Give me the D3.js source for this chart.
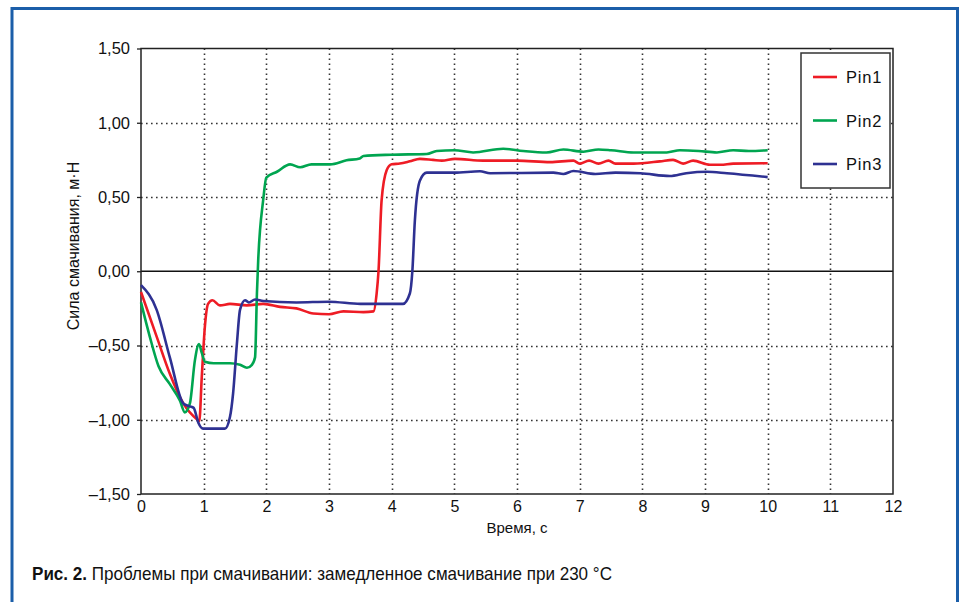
<!DOCTYPE html>
<html>
<head>
<meta charset="utf-8">
<script src="https://cdn.jsdelivr.net/npm/d3@7"></script>
<style>
  body { margin: 0; background: #fff; }
  svg { display: block; }
</style>
</head>
<body>
<svg id="chart" width="962" height="602"></svg>
<script>
// time (s), force (mN)
const pin1 = [
  [0,-0.14],[0.25,-0.44],[0.46,-0.69],[0.675,-0.89],[0.9,-1.0],[0.93,-1.01],[0.97,-0.71],[1.02,-0.37],
  [1.07,-0.22],[1.14,-0.195],[1.26,-0.23],[1.42,-0.22],[1.69,-0.23],[1.95,-0.22],[2.22,-0.24],[2.48,-0.25],
  [2.75,-0.285],[3.0,-0.29],[3.23,-0.27],[3.55,-0.275],[3.71,-0.27],[3.76,-0.15],[3.79,0],[3.84,0.48],
  [3.92,0.68],[4.0,0.72],[4.13,0.725],[4.29,0.74],[4.45,0.757],[4.66,0.75],[4.8,0.745],[5.01,0.757],
  [5.46,0.745],[6.0,0.745],[6.53,0.735],[6.9,0.745],[7.0,0.725],[7.15,0.745],[7.3,0.725],[7.46,0.745],
  [7.57,0.725],[7.86,0.725],[8.28,0.74],[8.49,0.75],[8.65,0.725],[8.81,0.745],[9.08,0.717],[9.25,0.717],
  [9.45,0.725],[10.0,0.727]
];
const pin2 = [
  [0,-0.21],[0.14,-0.44],[0.28,-0.64],[0.46,-0.76],[0.62,-0.87],[0.70,-0.95],[0.78,-0.89],[0.86,-0.6],
  [0.925,-0.49],[0.97,-0.55],[1.02,-0.61],[1.16,-0.62],[1.42,-0.62],[1.58,-0.63],[1.69,-0.65],[1.77,-0.63],
  [1.82,-0.58],[1.85,-0.15],[1.87,0.07],[1.95,0.48],[2.0,0.63],[2.17,0.67],[2.38,0.72],[2.54,0.70],
  [2.72,0.72],[3.02,0.72],[3.28,0.747],[3.49,0.76],[3.55,0.776],[4.0,0.785],[4.56,0.79],[4.72,0.81],
  [5.0,0.815],[5.3,0.80],[5.78,0.825],[6.1,0.81],[6.47,0.80],[6.74,0.82],[7.06,0.805],[7.3,0.82],
  [7.5,0.815],[7.86,0.80],[8.39,0.80],[8.6,0.815],[8.9,0.81],[9.19,0.80],[9.45,0.815],[9.7,0.81],[10.0,0.815]
];
const pin3 = [
  [0,-0.094],[0.25,-0.26],[0.46,-0.58],[0.675,-0.89],[0.78,-0.91],[0.84,-0.92],[0.915,-1.02],[0.99,-1.06],
  [1.34,-1.06],[1.42,-0.98],[1.47,-0.82],[1.53,-0.49],[1.58,-0.26],[1.66,-0.195],[1.72,-0.21],[1.82,-0.19],
  [1.95,-0.2],[2.48,-0.21],[3.0,-0.205],[3.5,-0.22],[4.18,-0.22],[4.29,-0.15],[4.33,0],[4.37,0.34],
  [4.45,0.61],[4.56,0.664],[5.0,0.664],[5.41,0.673],[5.57,0.66],[6.58,0.664],[6.74,0.655],[6.9,0.675],
  [7.25,0.655],[7.57,0.664],[7.97,0.66],[8.44,0.641],[8.7,0.66],[9.03,0.67],[9.35,0.66],[10.0,0.634]
];

const seriesNames = ["Pin1", "Pin2", "Pin3"];
const seriesColors = ["#ee1c25", "#00a550", "#2e3192"];
const xTicks = [0,1,2,3,4,5,6,7,8,9,10,11,12];
const yTicks = [-1.5,-1,-0.5,0,0.5,1,1.5];

const svg = d3.select("#chart");

// outer blue frame (no bottom edge)
svg.append("path")
  .attr("d", "M12,604 L12,8.5 L957.5,8.5 L957.5,604")
  .attr("fill", "none")
  .attr("stroke", "#1b5ea9")
  .attr("stroke-width", 3);

const plot = {left: 141, right: 893, top: 48.5, bottom: 494};

const x = d3.scaleLinear().domain([0, 12]).range([plot.left, plot.right]);
const y = d3.scaleLinear().domain([-1.5, 1.5]).range([plot.bottom, plot.top]);

// dotted grid
svg.append("g")
  .selectAll("line")
  .data(xTicks.filter(d => d > 0 && d < 12))
  .join("line")
  .attr("x1", d => Math.round(x(d)) + 0.5).attr("x2", d => Math.round(x(d)) + 0.5)
  .attr("y1", plot.top).attr("y2", plot.bottom)
  .attr("stroke", "#333").attr("stroke-width", 1.6)
  .attr("stroke-dasharray", "1.6,3.4");

svg.append("g")
  .selectAll("line")
  .data(yTicks.filter(d => d != 0 && Math.abs(d) < 1.5))
  .join("line")
  .attr("x1", plot.left).attr("x2", plot.right)
  .attr("y1", d => Math.round(y(d)) + 0.5).attr("y2", d => Math.round(y(d)) + 0.5)
  .attr("stroke", "#333").attr("stroke-width", 1.6)
  .attr("stroke-dasharray", "1.6,3.4");

// zero line
svg.append("line")
  .attr("x1", plot.left).attr("x2", plot.right)
  .attr("y1", y(0)).attr("y2", y(0))
  .attr("stroke", "#111").attr("stroke-width", 1.5);

// plot frame
svg.append("rect")
  .attr("x", plot.left).attr("y", plot.top)
  .attr("width", plot.right - plot.left).attr("height", plot.bottom - plot.top)
  .attr("fill", "none").attr("stroke", "#222").attr("stroke-width", 1.5);

// axes
const fmt = d => (d < 0 ? "\u2013" : "") + d3.format(".2f")(Math.abs(d)).replace(".", ",");

const yAxis = svg.append("g")
  .attr("transform", `translate(${plot.left},0)`)
  .call(d3.axisLeft(y).tickValues(yTicks).tickSize(4).tickPadding(7).tickFormat(fmt));
yAxis.select(".domain").remove();
yAxis.selectAll("line").attr("stroke", "#222").attr("stroke-width", 1.3);
yAxis.selectAll("text")
  .attr("font-family", "Liberation Sans, Arial, sans-serif")
  .attr("font-size", 16.5).attr("fill", "#111");

const xAxis = svg.append("g")
  .attr("transform", `translate(0,${plot.bottom})`)
  .call(d3.axisBottom(x).tickValues(xTicks).tickSize(0).tickPadding(7).tickFormat(d3.format("d")));
xAxis.select(".domain").remove();
xAxis.selectAll("text")
  .attr("font-family", "Liberation Sans, sans-serif")
  .attr("font-size", 16).attr("fill", "#111");

// axis titles
svg.append("text")
  .attr("x", x(6)).attr("y", 533)
  .attr("text-anchor", "middle")
  .attr("font-family", "Liberation Sans, sans-serif")
  .attr("font-size", 15).attr("fill", "#111")
  .text("Время, с");

svg.append("text")
  .attr("transform", "translate(79,246) rotate(-90)")
  .attr("text-anchor", "middle")
  .attr("font-family", "Liberation Sans, Arial, sans-serif")
  .attr("font-size", 16).attr("fill", "#111")
  .text("Сила смачивания, м·Н");

// series lines
const line = d3.line()
  .x(d => x(d[0]))
  .y(d => y(d[1]))
  .curve(d3.curveMonotoneX);

const allSeries = [pin1, pin2, pin3];
svg.append("g")
  .selectAll("path")
  .data(allSeries)
  .join("path")
  .attr("d", line)
  .attr("fill", "none")
  .attr("stroke", (d, i) => seriesColors[i])
  .attr("stroke-width", 2.6)
  .attr("stroke-linejoin", "round");

// legend
const legend = svg.append("g").attr("transform", "translate(801,53)");
legend.append("rect")
  .attr("width", 89).attr("height", 135)
  .attr("fill", "#fff").attr("stroke", "#333").attr("stroke-width", 1.5);

const legendItems = legend.selectAll("g")
  .data(seriesNames)
  .join("g")
  .attr("transform", (d, i) => `translate(0,${24 + i * 43.5})`);
legendItems.append("line")
  .attr("x1", 12).attr("x2", 36)
  .attr("stroke", (d, i) => seriesColors[i]).attr("stroke-width", 2.6);
legendItems.append("text")
  .attr("x", 45).attr("y", 6)
  .attr("font-family", "Liberation Sans, Arial, sans-serif")
  .attr("font-size", 16.5).attr("letter-spacing", 0.8).attr("fill", "#111")
  .text(d => d);

// caption (narrowed to the printed width)
const cap = svg.append("text")
  .attr("x", 32).attr("y", 580)
  .attr("textLength", 580).attr("lengthAdjust", "spacingAndGlyphs")
  .attr("font-family", "Liberation Sans, sans-serif")
  .attr("font-size", 18.5).attr("fill", "#111");
cap.append("tspan").attr("font-weight", "bold").text("Рис. 2.");
cap.append("tspan").text(" Проблемы при смачивании: замедленное смачивание при 230 °С");
</script>
</body>
</html>
